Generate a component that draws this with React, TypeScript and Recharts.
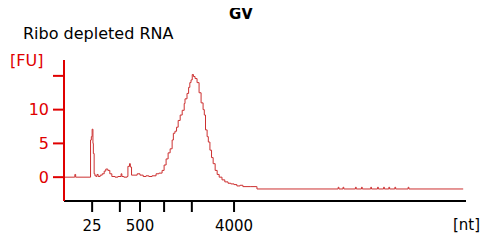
import React from "react";
import { LineChart, Line, XAxis, YAxis } from "recharts";

// migration position (arbitrary units, 0..100 across the plot) and fluorescence
const position = [
  0, 2.6, 2.7, 2.9, 6.5, 6.6, 6.8, 7.0, 7.2, 7.3, 7.5, 7.7, 8.0, 8.2, 8.5, 9.0,
  9.5, 10.0, 10.4, 10.9, 11.4, 11.9, 12.7, 13.4, 14.2, 14.4, 14.9, 15.7, 15.9,
  16.3, 16.5, 16.8, 17.4, 18.2, 18.9, 19.7, 20.4, 21.1, 21.9, 22.9, 23.6, 24.4,
  24.9, 25.4, 25.9, 26.4, 26.9, 27.2, 27.6, 28.0, 28.4, 28.9, 29.4, 29.9, 30.1,
  30.6, 31.0, 31.3, 31.6, 31.9, 32.2, 32.6, 33.1, 33.6, 34.1, 34.6, 34.9, 35.2,
  35.6, 35.9, 36.3, 36.7, 37.1, 37.6, 38.1, 38.6, 39.3, 40.0, 40.8, 41.5, 42.3,
  43.0, 43.8, 44.5, 46.3, 47.8, 48.0, 68.2, 68.4, 69.4, 69.6, 72.5, 72.7,
  74.0, 74.2, 76.3, 76.5, 78.0, 78.2, 79.5, 79.7, 80.8, 81.0, 82.3, 82.5,
  85.6, 85.8, 99.3,
];
const fu = [
  0, 0, 0.4, 0, 0, 5.5, 6.0, 7.1, 5.0, 3.5, 0.5, 0.2, 0.1, 0.4, 0.1, 0.3, 0.5,
  0.9, 1.2, 1.0, 0.5, 0.1, 0.0, 0.1, 0.5, 0.1, 0.0, 0.1, 1.6, 2.0, 1.5, 0.3, 0.3,
  0.5, 0.3, 0.1, 0.2, 0.1, 0.2, 0.5, 0.6, 1.0, 1.8, 2.7, 3.6, 4.2, 5.5, 6.5, 6.8,
  7.4, 8.4, 9.2, 9.9, 10.9, 11.6, 12.4, 13.3, 14.0, 14.4, 15.2, 14.9, 14.6, 14.0,
  12.5, 11.0, 10.0, 9.2, 7.0, 6.0, 5.2, 4.0, 2.9, 2.0, 1.0, 0.4, 0.0, -0.4, -0.7,
  -0.9, -1.0, -1.1, -1.3, -1.2, -1.4, -1.4, -1.4, -1.75, -1.5, -1.75, -1.5,
  -1.75, -1.5, -1.75, -1.5, -1.75, -1.5, -1.75, -1.5, -1.75, -1.5, -1.75,
  -1.5, -1.75, -1.5, -1.75, -1.5, -1.75, -1.75,
];

const xTicks = [7.0, 13.9, 18.9, 24.9, 31.8, 42.3];
const xTickLabels = ["25", "", "500", "", "", "4000"];
const yTicks = [0, 5, 10, 15];

const data = position.map((p, i) => ({ pos: p, fu: fu[i] }));

const RED = "#e00000";
const font = "'DejaVu Sans', Verdana, sans-serif";

export default function App() {
  return (
    <div style={{ position: "relative", width: 496, height: 244, margin: -8, fontFamily: font }}>
      <LineChart
        width={496}
        height={244}
        data={data}
        margin={{ top: 60, right: 30, bottom: 0, left: 10 }}
      >
        <XAxis
          type="number"
          dataKey="pos"
          domain={[0, 100]}
          ticks={xTicks}
          tickFormatter={(v: number) => xTickLabels[xTicks.indexOf(v)] ?? ""}
          interval={0}
          height={43}
          axisLine={{ stroke: "#000", strokeWidth: 2 }}
          tickLine={{ stroke: "#000", strokeWidth: 2 }}
          tickSize={11}
          tickMargin={8}
          tick={{ fill: "#000", fontSize: 15, fontFamily: font }}
        />
        <YAxis
          type="number"
          domain={[-3.53, 17.35]}
          ticks={yTicks}
          tickFormatter={(v: number) => (v === 15 ? "" : String(v))}
          interval={0}
          width={54}
          axisLine={{ stroke: RED, strokeWidth: 2 }}
          tickLine={{ stroke: RED, strokeWidth: 2 }}
          tickSize={11}
          tickMargin={4}
          tick={{ fill: RED, fontSize: 16, fontFamily: font }}
        />
        <Line
          type="stepAfter"
          dataKey="fu"
          stroke="#cc3030"
          strokeWidth={1}
          dot={false}
          isAnimationActive={false}
        />
      </LineChart>
      <div style={{ position: "absolute", left: 229, top: 7, fontSize: 15, fontWeight: "bold", lineHeight: 1 }}>
        GV
      </div>
      <div style={{ position: "absolute", left: 23, top: 26, fontSize: 16, lineHeight: 1 }}>
        Ribo depleted RNA
      </div>
      <div style={{ position: "absolute", left: 10, top: 53, fontSize: 16, lineHeight: 1, color: RED }}>
        [FU]
      </div>
      <div style={{ position: "absolute", left: 453, top: 218, fontSize: 15, lineHeight: 1 }}>
        [nt]
      </div>
    </div>
  );
}
